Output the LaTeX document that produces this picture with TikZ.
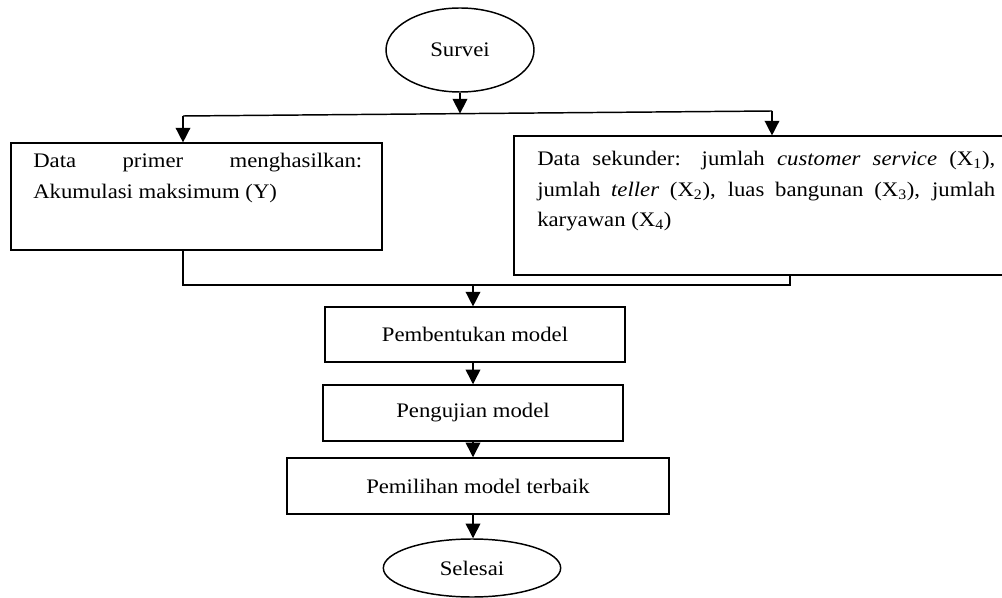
\documentclass[tikz,border=0pt]{standalone}
\usepackage{fontspec}
\setmainfont{Liberation Serif}[FakeStretch=1.1]
\usetikzlibrary{shapes.geometric,arrows.meta}
\tikzset{
  proses/.style={draw, line width=1.1pt, rectangle},
  terminal/.style={draw, line width=1.1pt, ellipse, inner sep=0pt},
  isi/.style={inner sep=0pt, align=justify, anchor=north west},
  panah/.style={-{Triangle[width=11pt,length=11pt]}, line width=1.1pt},
  garis/.style={line width=1.1pt}
}
\begin{document}
\begin{tikzpicture}[x=0.75pt,y=-0.75pt,font=\fontsize{15.5}{23}\selectfont]
  \useasboundingbox (0,0) rectangle (1002,598);
  \draw
    (460,50) node[terminal, minimum width=111pt, minimum height=63pt] (survei){Survei}
    (196.5,196.5) node[proses, minimum width=278pt, minimum height=80pt] (primer){}
    (760,205.5) node[proses, minimum width=369pt, minimum height=104pt] (sekunder){}
    (475,334.5) node[proses, minimum width=225pt, minimum height=41pt] (bentuk){Pembentukan model}
    (473,413) node[proses, minimum width=225pt, minimum height=42pt] (uji){Pengujian model}
    (478,486) node[proses, minimum width=286.5pt, minimum height=42pt] (pilih){Pemilihan model terbaik}
    (472,568) node[terminal, minimum width=133pt, minimum height=43.5pt] (selesai){Selesai};
  \node[isi, text width=246.75pt] (primertxt) at (33,153)
    {Data primer menghasilkan:\linebreak Akumulasi maksimum (Y)};
  \node[isi, text width=343.5pt] (sekundertxt) at (537,151)
    {Data sekunder: jumlah \textit{customer service} (X\textsubscript{1}),\linebreak
     jumlah \textit{teller} (X\textsubscript{2}), luas bangunan (X\textsubscript{3}), jumlah\linebreak
     karyawan (X\textsubscript{4})};
  \coordinate (kiriatas) at (183,116);
  \coordinate (kananatas) at (772,111);
  \coordinate (tengahatas) at (460,113.6);
  \coordinate (kiribawah) at (183,285);
  \coordinate (kananbawah) at (790,285);
  \coordinate (tengahbawah) at (473,285);
  \begin{scope}[garis]
    \draw (kiriatas) -- (kananatas);
    \draw (kiriatas |- primer.south) -- (kiribawah) -- (kananbawah) -- (kananbawah |- sekunder.south);
  \end{scope}
  \begin{scope}[panah]
    \draw (survei.south) -- (tengahatas);
    \draw (kiriatas) -- (kiriatas |- primer.north);
    \draw (kananatas) -- (kananatas |- sekunder.north);
    \draw (tengahbawah) -- (tengahbawah |- bentuk.north);
    \draw (uji.north |- bentuk.south) -- (uji.north);
    \draw (uji.south) -- (uji.south |- pilih.north);
    \draw (uji.south |- pilih.south) -- (uji.south |- selesai.north);
  \end{scope}
\end{tikzpicture}
\end{document}
